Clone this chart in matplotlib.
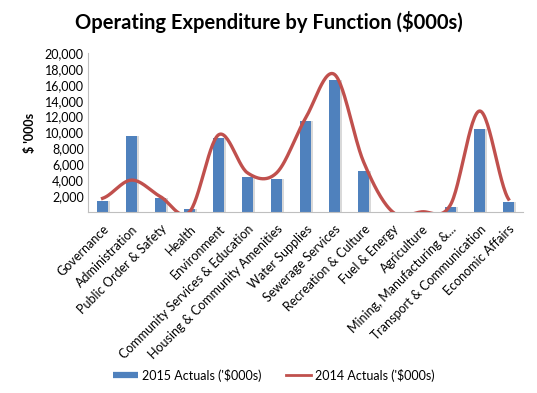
import numpy as np
import matplotlib.pyplot as plt
from matplotlib.lines import Line2D

plt.rcParams['font.family'] = ['Lato', 'DejaVu Sans']

categories = ["Governance", "Administration", "Public Order & Safety", "Health",
              "Environment", "Community Services & Education",
              "Housing & Community Amenities", "Water Supplies",
              "Sewerage Services", "Recreation & Culture", "Fuel & Energy",
              "Agriculture", "Mining, Manufacturing &...",
              "Transport & Communication", "Economic Affairs"]
actuals_2015 = [1400, 9600, 1800, 300, 9300, 4400, 4100, 11400, 16600, 5100,
                0, 0, 600, 10400, 1300]
actuals_2014 = [1700, 4000, 1900, 0, 9700, 4900, 4900, 11800, 17300, 6300,
                0, 0, 900, 12700, 1600]
yticks = [2000, 4000, 6000, 8000, 10000, 12000, 14000, 16000, 18000, 20000]


def smooth_line(x, y, steps=30):
    """Catmull-Rom curve, close to Excel's smoothed line"""
    x = np.asarray(x, float)
    y = np.asarray(y, float)
    px = np.concatenate([[2 * x[0] - x[1]], x, [2 * x[-1] - x[-2]]])
    py = np.concatenate([[y[0]], y, [y[-1]]])
    xs, ys = [], []
    t = np.linspace(0, 1, steps)
    for i in range(1, len(px) - 2):
        for p, out in ((px, xs), (py, ys)):
            p0, p1, p2, p3 = p[i - 1], p[i], p[i + 1], p[i + 2]
            out.extend(0.5 * (2 * p1 + (-p0 + p2) * t
                              + (2 * p0 - 5 * p1 + 4 * p2 - p3) * t ** 2
                              + (-p0 + 3 * p1 - 3 * p2 + p3) * t ** 3))
    return xs, ys


fig = plt.figure(figsize=(5.37, 3.93), dpi=100)
ax = fig.add_axes([0.164, 0.461, 0.81, 0.404])

x = np.arange(len(categories))
ax.bar(x + 0.07, actuals_2015, width=0.38, color="#d9d9d9", zorder=1)
ax.bar(x, actuals_2015, width=0.36, color="#4F81BD", zorder=2)
sx, sy = smooth_line(x, actuals_2014)
ax.plot(sx, sy, color="#C0504D", linewidth=2.4, zorder=3)

ax.set_xlim(-0.5, len(categories) - 0.5)
ax.set_ylim(0, 20000)
ax.set_yticks(yticks)
ax.set_yticklabels([f"{v:,}" for v in yticks], fontsize=9)
ax.set_xticks(x)
ax.set_xticklabels(categories, rotation=45, ha="right",
                   rotation_mode="anchor", fontsize=9)
ax.tick_params(length=0, pad=3)
ax.tick_params(axis="x", pad=8)
for s in ["top", "right"]:
    ax.spines[s].set_visible(False)
ax.spines["left"].set_color("#bfbfbf")
ax.spines["bottom"].set_color("#bfbfbf")

ax.set_ylabel("$ '000s", fontsize=9, fontweight="bold", labelpad=6)
fig.text(0.5, 0.945, "Operating Expenditure by Function ($000s)",
         ha="center", va="center", fontsize=14.5, fontweight="bold")

handles = [Line2D([], [], color="#4F81BD", linewidth=4.5, solid_capstyle="butt"),
           Line2D([], [], color="#C0504D", linewidth=2)]
labels = ["2015 Actuals ('$000s)", "2014 Actuals ('$000s)"]
fig.legend(handles, labels, loc="center", bbox_to_anchor=(0.51, 0.045),
           ncol=2, frameon=False, fontsize=9, handlelength=2,
           handletextpad=0.3, columnspacing=2)

fig.savefig("out.png", dpi=100)
